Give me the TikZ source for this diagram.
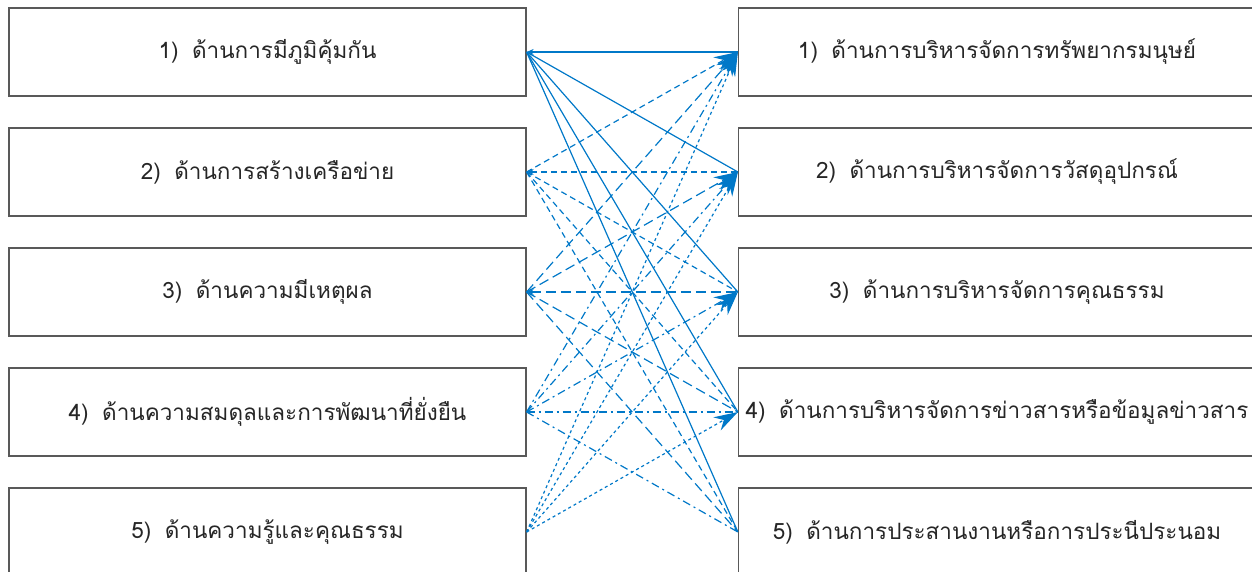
\documentclass[tikz,border=0pt]{standalone}
\usepackage{fontspec}
\setmainfont{Liberation Sans}
\newfontfamily\thaifont[Script=Thai]{Loma}
\usetikzlibrary{arrows.meta}
\definecolor{linkblue}{RGB}{0,120,200}

\begin{document}
\begin{tikzpicture}[x=1pt,y=-1pt,
  box/.style={draw=black!65, line width=1.2pt, minimum width=517pt,
    minimum height=88pt, inner sep=0pt, text=black!85,
    font=\thaifont\fontsize{22.5}{26}\selectfont},
  link/.style={linkblue, line width=1.2pt},
  uptip/.style={-{Stealth[length=24pt,width=15pt]}},
  backtip/.style={{Stealth[length=7pt,width=6pt]}-},
  sA/.style={link, solid},
  sB/.style={link, dash pattern=on 6pt off 4pt},
  sC/.style={link, dash pattern=on 10pt off 5pt},
  sD/.style={link, dash pattern=on 8pt off 4pt on 2pt off 4pt},
  sE/.style={link, dash pattern=on 3pt off 3pt}]
  \useasboundingbox (0,0) rectangle (1252,571);

  % left column
  \node[box] (l1) at (267.5,52)  {1)\hspace{0.6em}ด้านการมีภูมิคุ้มกัน};
  \node[box] (l2) at (267.5,172) {2)\hspace{0.6em}ด้านการสร้างเครือข่าย};
  \node[box] (l3) at (267.5,292) {3)\hspace{0.6em}ด้านความมีเหตุผล};
  \node[box] (l4) at (267.5,412) {4)\hspace{0.6em}ด้านความสมดุลและการพัฒนาที่ยั่งยืน};
  \node[box] (l5) at (267.5,532) {5)\hspace{0.6em}ด้านความรู้และคุณธรรม};

  % right column
  \node[box] (r1) at (997,52)  {1)\hspace{0.6em}ด้านการบริหารจัดการทรัพยากรมนุษย์};
  \node[box] (r2) at (997,172) {2)\hspace{0.6em}ด้านการบริหารจัดการวัสดุอุปกรณ์};
  \node[box] (r3) at (997,292) {3)\hspace{0.6em}ด้านการบริหารจัดการคุณธรรม};
  \node[box] (r4) at (997,412) {4)\hspace{0.6em}ด้านการบริหารจัดการข่าวสารหรือข้อมูลข่าวสาร};
  \node[box] (r5) at (997,532) {5)\hspace{0.6em}ด้านการประสานงานหรือการประนีประนอม};

  % links from l1
  \draw[sA,backtip] (l1.east) -- (r1.west);
  \foreach \j in {2,...,5} \draw[sA] (l1.east) -- (r\j.west);

  % links from l2
  \draw[sB,uptip] (l2.east) -- (r1.west);
  \draw[sB,backtip] (l2.east) -- (r2.west);
  \foreach \j in {3,4,5} \draw[sB] (l2.east) -- (r\j.west);

  % links from l3
  \foreach \j in {1,2} \draw[sC,uptip] (l3.east) -- (r\j.west);
  \draw[sC,backtip] (l3.east) -- (r3.west);
  \foreach \j in {4,5} \draw[sC] (l3.east) -- (r\j.west);

  % links from l4
  \foreach \j in {1,2,3} \draw[sD,uptip] (l4.east) -- (r\j.west);
  \foreach \j in {4,5} \draw[sD] (l4.east) -- (r\j.west);

  % links from l5
  \foreach \j in {1,...,4} \draw[sE,uptip] (l5.east) -- (r\j.west);
\end{tikzpicture}
\end{document}
